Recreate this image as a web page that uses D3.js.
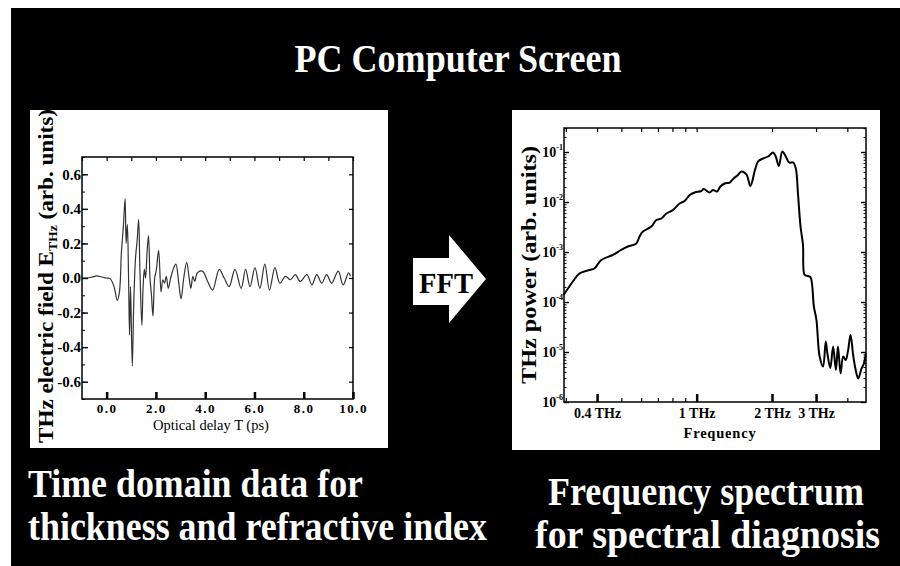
<!DOCTYPE html>
<html><head><meta charset="utf-8">
<script src="https://cdn.jsdelivr.net/npm/d3@7/dist/d3.min.js"></script>
<style>body{margin:0;background:#fff}svg{display:block}text{font-family:"Liberation Serif","Times New Roman",serif}</style>
</head><body><svg id="c" width="900" height="566"></svg>
<script>
// ---- Time-domain data (optical delay in ps, field in arb. units)
const timePs = [-1.0,-0.8,-0.6,-0.4,-0.2,0.0,0.15,0.3,0.43,0.52,0.60,0.68,0.75,0.79,0.84,0.89,0.93,0.97,1.04,1.10,1.17,1.24,1.30,1.35,1.43,1.48,1.53,1.58,1.64,1.70,1.76,1.82,1.88,1.95,2.02,2.11,2.21,2.28,2.35,2.42,2.50,2.60,2.70,2.81,2.92,3.02,3.13,3.25,3.35,3.42,3.50,3.58,3.68,3.89,4.10,4.30,4.57,4.77,4.97,5.21,5.46,5.64,5.82,6.02,6.22,6.42,6.61,6.83,7.03,7.26,7.46,7.66,7.86,8.13,8.33,8.53,8.73,8.93,9.13,9.40,9.60,9.82,9.9];
const fieldE = [0.0,0.0,0.005,0.012,0.006,0.0,-0.005,-0.05,-0.13,-0.08,0.15,0.30,0.46,0.20,0.31,0.0,-0.33,-0.05,-0.51,-0.15,0.11,0.22,0.34,0.05,-0.275,-0.05,0.05,0.0,0.15,0.245,0.0,-0.10,-0.22,0.0,0.05,0.16,-0.08,-0.01,-0.03,0.01,-0.06,0.0,0.05,0.08,-0.02,-0.12,0.0,0.09,0.0,-0.06,0.01,-0.02,0.03,0.04,-0.02,-0.07,0.05,0.0,-0.05,0.05,-0.06,0.05,-0.05,0.06,-0.06,0.08,-0.07,0.06,-0.03,0.01,-0.01,0.02,-0.02,0.02,-0.04,0.02,-0.03,0.02,-0.03,0.04,-0.04,0.03,0.01];
const timeTicks = [0,2,4,6,8,10];
const timeTickLabels = ["0.0","2.0","4.0","6.0","8.0","10.0"];
const fieldTicks = [0.6,0.4,0.2,0.0,-0.2,-0.4,-0.6];
const fieldTickLabels = ["0.6","0.4","0.2","0.0","-0.2","-0.4","-0.6"];

// ---- Spectrum data (frequency in THz, power in arb. units)
const freqTHz = [0.294,0.32,0.34,0.373,0.39,0.416,0.462,0.499,0.531,0.574,0.591,0.61,0.659,0.69,0.723,0.757,0.804,0.855,0.895,0.938,0.982,1.044,1.067,1.127,1.162,1.205,1.244,1.294,1.355,1.405,1.462,1.51,1.58,1.64,1.71,1.76,1.84,1.93,2.02,2.07,2.13,2.20,2.27,2.34,2.43,2.49,2.54,2.60,2.66,2.70,2.78,2.85,2.94,3.01,3.10,3.20,3.28,3.33,3.42,3.51,3.60,3.67,3.76,3.85,3.94,4.03,4.12,4.22,4.32,4.42,4.56,4.66,4.74];
const powerAU = [1.38e-4,2.57e-4,3.72e-4,4.37e-4,4.68e-4,6.92e-4,8.71e-4,1.10e-3,1.29e-3,1.48e-3,2.04e-3,2.57e-3,3.24e-3,4.37e-3,4.68e-3,5.89e-3,6.92e-3,9.33e-3,1.05e-2,1.38e-2,1.55e-2,1.66e-2,1.82e-2,1.55e-2,1.74e-2,1.62e-2,2.04e-2,2.34e-2,2.45e-2,2.95e-2,3.47e-2,4.07e-2,3.55e-2,2.09e-2,4.37e-2,6.46e-2,7.41e-2,8.13e-2,9.77e-2,8.13e-2,5.25e-2,1.02e-1,8.13e-2,6.17e-2,6.17e-2,4.68e-2,1.48e-2,3.24e-3,1.38e-3,3.47e-4,3.31e-4,3.16e-4,8.13e-5,4.37e-5,8.13e-6,5.13e-6,1.62e-5,9.33e-6,4.79e-6,1.29e-5,4.37e-6,1.29e-5,3.72e-6,8.13e-6,6.92e-6,1.10e-5,2.19e-5,8.71e-6,4.37e-6,2.95e-6,4.68e-6,5.89e-6,9.33e-6];
const freqTicks = [0.4,1,2,3];
const freqTickLabels = ["0.4 THz","1 THz","2 THz","3 THz"];
const freqMinor = [0.3,0.5,0.6,0.7,0.8,0.9,4];
const powerTicks = [1e-6,1e-5,1e-4,1e-3,1e-2,1e-1];
const powerExp = ["-6","-5","-4","-3","-2","-1"];

const svg = d3.select("#c");
svg.append("rect").attr("x",11).attr("y",8).attr("width",889).attr("height",558).attr("fill","#000");

svg.append("text").attr("x",458).attr("y",72).attr("text-anchor","middle")
  .attr("fill","#fff").attr("font-size",41).attr("font-weight","bold")
  .attr("textLength",327).attr("lengthAdjust","spacingAndGlyphs").text("PC Computer Screen");

// panels
svg.append("rect").attr("x",30).attr("y",110).attr("width",358).attr("height",338).attr("fill","#fff");
svg.append("rect").attr("x",512).attr("y",110).attr("width",368).attr("height",340).attr("fill","#fff");

// ---------- Left chart
const xT = d3.scaleLinear().domain([-1,10]).range([82,353]);
const yE = d3.scaleLinear().domain([-0.7,0.7]).range([399,157]);
const L = svg.append("g");
L.append("path").datum(timePs.map((t,i)=>[t,fieldE[i]]))
  .attr("d", d3.line().x(d=>xT(d[0])).y(d=>yE(d[1])).curve(d3.curveCatmullRom.alpha(0.5)))
  .attr("fill","none").attr("stroke","#333").attr("stroke-width",1.2);

function styleAxis(g){ g.select(".domain").remove(); g.selectAll("line").attr("stroke","#000"); }
// bottom
L.append("g").attr("transform","translate(0,399)")
  .call(d3.axisBottom(xT).tickValues(timeTicks).tickSize(-7).tickPadding(5).tickFormat((d,i)=>timeTickLabels[i]))
  .call(styleAxis)
  .call(g=>g.selectAll("line").attr("stroke-width",2.5))
  .call(g=>g.selectAll("text").attr("fill","#000").attr("font-size",13).attr("font-weight","bold").attr("letter-spacing",1.5).attr("font-family","Liberation Serif"));
// top
L.append("g").attr("transform","translate(0,157)")
  .call(d3.axisTop(xT).tickValues(d3.range(-1,11,1)).tickSize(-4).tickFormat(""))
  .call(styleAxis).call(g=>g.selectAll("line").attr("stroke-width",1.2));
// left
L.append("g").attr("transform","translate(82,0)")
  .call(d3.axisLeft(yE).tickValues(d3.range(-7,8,1).map(v=>v/10)).tickSize(-3).tickFormat(""))
  .call(styleAxis).call(g=>g.selectAll("line").attr("stroke-width",1));
L.append("g").attr("transform","translate(82,0)")
  .call(d3.axisLeft(yE).tickValues(fieldTicks).tickSize(-6).tickPadding(1).tickFormat((d,i)=>fieldTickLabels[i]))
  .call(styleAxis)
  .call(g=>g.selectAll("line").attr("stroke-width",1.4))
  .call(g=>g.selectAll("text").attr("fill","#000").attr("font-size",15).attr("font-weight","bold").attr("font-family","Liberation Serif"));
// right
L.append("g").attr("transform","translate(353,0)")
  .call(d3.axisRight(yE).tickValues(fieldTicks).tickSize(-4).tickFormat(""))
  .call(styleAxis).call(g=>g.selectAll("line").attr("stroke-width",1.2));
L.append("rect").attr("x",82).attr("y",157).attr("width",271).attr("height",242)
  .attr("fill","none").attr("stroke","#000").attr("stroke-width",1.5);
L.append("text").attr("x",211).attr("y",430).attr("text-anchor","middle").attr("font-size",14.5)
  .attr("fill","#000").text("Optical delay T (ps)");
const yl = L.append("text").attr("transform","translate(53,276) rotate(-90)").attr("text-anchor","middle")
  .attr("font-size",22).attr("font-weight","bold").attr("fill","#000")
  .attr("textLength",334).attr("lengthAdjust","spacingAndGlyphs");
yl.append("tspan").text("THz electric field E");
yl.append("tspan").attr("font-size",13).attr("dy",4).text("THz");
yl.append("tspan").attr("dy",-4).text(" (arb. units)");

// ---------- Right chart
const xF = d3.scaleLog().domain([0.295,4.75]).range([564,866]);
const yP = d3.scaleLog().domain([1e-6,0.302]).range([402,128]);
const R = svg.append("g");
R.append("path").datum(freqTHz.map((f,i)=>[f,powerAU[i]]))
  .attr("d", d3.line().x(d=>xF(d[0])).y(d=>yP(d[1])).curve(d3.curveCatmullRom.alpha(0.5)))
  .attr("fill","none").attr("stroke","#000").attr("stroke-width",2);
// bottom majors
R.append("g").attr("transform","translate(0,402)")
  .call(d3.axisBottom(xF).tickValues(freqTicks).tickSize(-8).tickPadding(6).tickFormat((d,i)=>freqTickLabels[i]))
  .call(styleAxis)
  .call(g=>g.selectAll("line").attr("stroke-width",2.5))
  .call(g=>g.selectAll("text").attr("fill","#000").attr("font-size",14).attr("font-weight","bold").attr("font-family","Liberation Serif"));
R.append("g").attr("transform","translate(0,402)")
  .call(d3.axisBottom(xF).tickValues(freqMinor).tickSize(-4).tickFormat(""))
  .call(styleAxis).call(g=>g.selectAll("line").attr("stroke-width",1.2));
// top
R.append("g").attr("transform","translate(0,128)")
  .call(d3.axisTop(xF).tickValues(freqMinor.concat(freqTicks)).tickSize(-4).tickFormat(""))
  .call(styleAxis).call(g=>g.selectAll("line").attr("stroke-width",1.2));
// left / right decades and minors
const powerMinor = [];
powerTicks.forEach(p=>{ [2,3,4,5,6,7,8,9].forEach(m=>{ if (p*m<=0.302) powerMinor.push(p*m); }); });
[ [564, d3.axisLeft], [866, d3.axisRight] ].forEach(([x, ax])=>{
  R.append("g").attr("transform",`translate(${x},0)`)
    .call(ax(yP).tickValues(powerMinor).tickSize(-2.5).tickFormat(""))
    .call(styleAxis).call(g=>g.selectAll("line").attr("stroke-width",1));
  R.append("g").attr("transform",`translate(${x},0)`)
    .call(ax(yP).tickValues(powerTicks).tickSize(-5).tickFormat(""))
    .call(styleAxis).call(g=>g.selectAll("line").attr("stroke-width",1.4));
});
const yLab = R.append("g").selectAll("text").data(powerTicks).join("text")
  .attr("x",563).attr("y",d=>yP(d)+5).attr("text-anchor","end").attr("fill","#000")
  .attr("font-size",14).attr("font-weight","bold");
yLab.append("tspan").text("10");
yLab.append("tspan").attr("font-size",8).attr("dy",-7).text((d,i)=>powerExp[i]);
R.append("rect").attr("x",564).attr("y",128).attr("width",302).attr("height",274)
  .attr("fill","none").attr("stroke","#000").attr("stroke-width",1.5);
R.append("text").attr("x",720).attr("y",438).attr("text-anchor","middle").attr("font-size",14.5)
  .attr("font-weight","bold").attr("letter-spacing",0.8).attr("fill","#000").text("Frequency");
R.append("text").attr("transform","translate(536,265) rotate(-90)").attr("text-anchor","middle")
  .attr("font-size",22).attr("font-weight","bold").attr("fill","#000")
  .attr("textLength",238).attr("lengthAdjust","spacingAndGlyphs").text("THz power (arb. units)");

// ---------- FFT arrow
svg.append("path").attr("d","M413,258 L449,258 L449,235 L486,279 L449,323 L449,305 L413,305 Z").attr("fill","#fff");
svg.append("text").attr("x",446).attr("y",293).attr("text-anchor","middle").attr("font-size",29)
  .attr("font-weight","bold").attr("fill","#000").attr("textLength",54).attr("lengthAdjust","spacingAndGlyphs").text("FFT");

// ---------- Captions
const cap = [
  ["Time domain data for",28,497,335],
  ["thickness and refractive index",28,540,459],
  ["Frequency spectrum",548,505,316],
  ["for spectral diagnosis",535,548,345]
];
svg.append("g").selectAll("text").data(cap).join("text")
  .attr("x",d=>d[1]).attr("y",d=>d[2]).attr("fill","#fff").attr("font-size",40).attr("font-weight","bold")
  .attr("textLength",d=>d[3]).attr("lengthAdjust","spacingAndGlyphs").text(d=>d[0]);
</script></body></html>
